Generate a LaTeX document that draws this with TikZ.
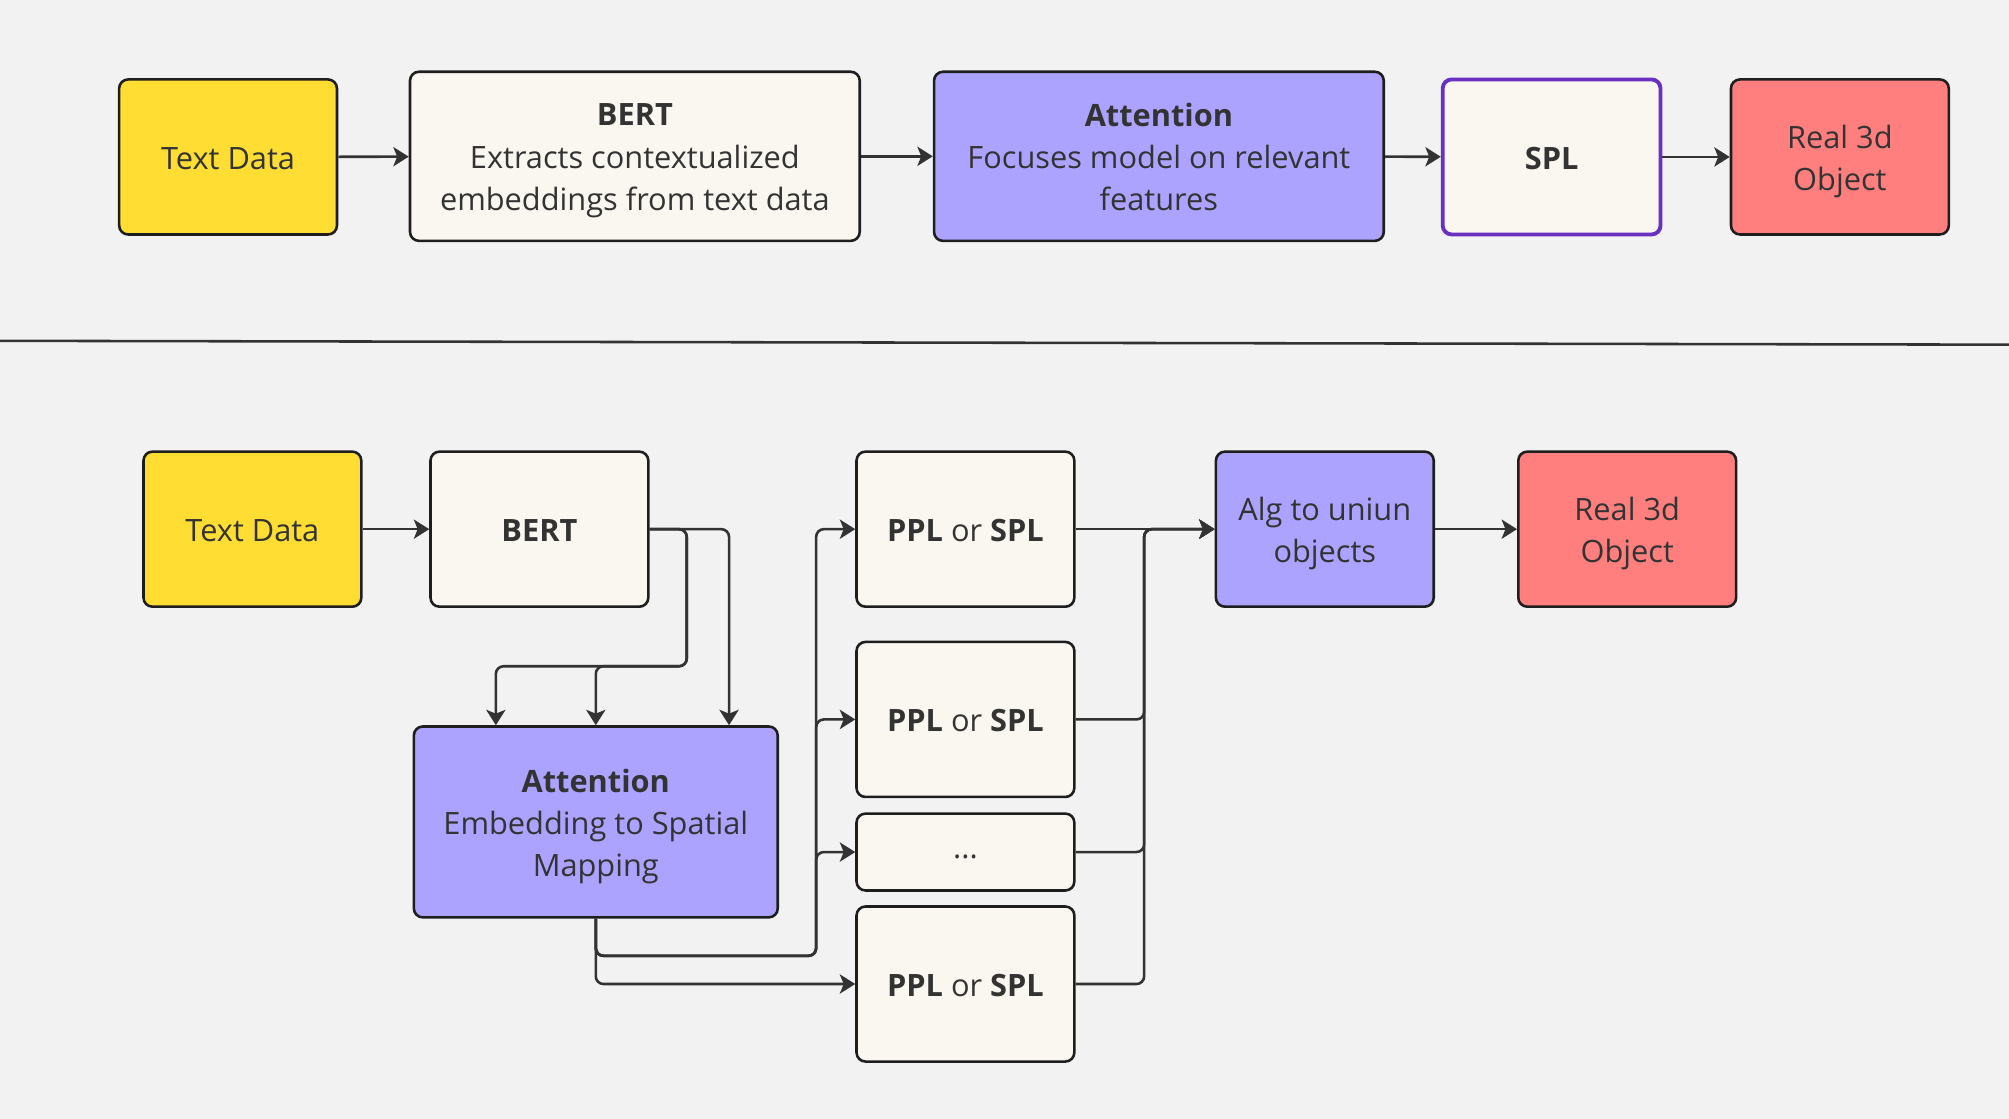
\documentclass[tikz,border=0pt]{standalone}
\usepackage{fontspec}
\setmainfont{Open Sans}
\usetikzlibrary{arrows.meta,calc}
\definecolor{bgc}{HTML}{F2F2F2}
\definecolor{yel}{HTML}{FFDD33}
\definecolor{crm}{HTML}{FAF7F0}
\definecolor{pur}{HTML}{ABA3FF}
\definecolor{salm}{HTML}{FF7F7F}
\definecolor{brd}{HTML}{1E1E1E}
\definecolor{txt}{HTML}{333333}
\definecolor{spl}{HTML}{6A30C2}
\tikzset{
  box/.style={draw=brd, line width=1pt, rounded corners=3.5pt},
  txtlab/.style={align=center, text=txt, font=\fontsize{12}{16.5}\selectfont,
    inner sep=0pt, yshift=-1.8pt},
  txtone/.style={txtlab, yshift=1.3pt},
  txtup/.style={txtlab, yshift=1.5pt},
  say/.style={label={[txtlab]center:{#1}}},
  sayone/.style={label={[txtone]center:{#1}}},
  sayup/.style={label={[txtup]center:{#1}}},
  smallbox/.style={box, minimum width=85pt, minimum height=60.5pt},
  conn/.style={draw=txt, line width=1pt, rounded corners=3pt,
    -{Stealth[length=6pt,width=7.5pt,inset=1.5pt]}}
}
\begin{document}
\begin{tikzpicture}[x=0.5pt,y=-0.5pt]
\fill[bgc] (0,0) rectangle (1568,873);
\useasboundingbox (0,0) rectangle (1568,873);

% top row
\node[smallbox, fill=yel, sayone={Text Data}] (t1) at (178,122.5) {};
\node[box, fill=crm, minimum width=175.5pt, minimum height=66pt,
  say={\textbf{BERT}\\Extracts contextualized\\embeddings from text data}] (t2) at (495.5,122) {};
\node[box, fill=pur, minimum width=175.5pt, minimum height=66pt,
  sayup={\textbf{Attention}\\Focuses model on relevant\\features}] (t3) at (904.5,122) {};
\node[smallbox, fill=crm, draw=spl, line width=1.5pt, sayone={\textbf{SPL}}] (t4) at (1211,122.5) {};
\node[smallbox, fill=salm, say={Real 3d\\Object}] (t5) at (1436,122.5) {};
\draw[conn] (t1) -- (t2);
\draw[conn] (t2) -- (t3);
\draw[conn] (t3) -- (t4);
\draw[conn] (t4) -- (t5);

% divider
\coordinate (dl) at (0,266);
\coordinate (dr) at (1568,269);
\draw[draw=txt, line width=1pt] (dl) -- (dr);

% bottom row
\node[smallbox, fill=yel, sayone={Text Data}] (b1) at (197,413) {};
\node[smallbox, fill=crm, sayone={\textbf{BERT}}] (b2) at (421,413) {};
\node[box, fill=pur, minimum width=142pt, minimum height=74.5pt,
  say={\textbf{Attention}\\Embedding to Spatial\\Mapping}] (a) at (465,641.5) {};
\node[smallbox, fill=crm, sayone={\textbf{PPL} or \textbf{SPL}}] (p1) at (753.5,413) {};
\node[smallbox, fill=crm, sayone={\textbf{PPL} or \textbf{SPL}}] (p2) at (753.5,561.5) {};
\node[box, fill=crm, minimum width=85pt, minimum height=30pt, say={...}] (pd) at (753.5,665) {};
\node[smallbox, fill=crm, sayone={\textbf{PPL} or \textbf{SPL}}] (p3) at (753.5,768) {};
\node[smallbox, fill=pur, say={Alg to uniun\\objects}] (alg) at (1034,413) {};
\node[smallbox, fill=salm, say={Real 3d\\Object}] (r) at (1270,413) {};

\coordinate (j1) at (536,520);
\coordinate (j2) at (637,746);
\coordinate (j3) at (893,413);

\draw[conn] (b1) -- (b2);
\draw[conn] (b2.east) -| (j1) -| ([xshift=-39pt]a.north);
\draw[conn] (b2.east) -| (j1) -| (a.north);
\draw[conn] (b2.east) -| ([xshift=52pt]a.north);

\draw[conn] (a.south) |- (j2) |- (p1.west);
\draw[conn] (a.south) |- (j2) |- (p2.west);
\draw[conn] (a.south) |- (j2) |- (pd.west);
\draw[conn] (a.south) |- (p3.west);

\draw[conn] (p1.east) -- (alg.west);
\draw[conn] (p2.east) -| (j3) -- (alg.west);
\draw[conn] (pd.east) -| (j3) -- (alg.west);
\draw[conn] (p3.east) -| (j3) -- (alg.west);
\draw[conn] (alg) -- (r);
\end{tikzpicture}
\end{document}
